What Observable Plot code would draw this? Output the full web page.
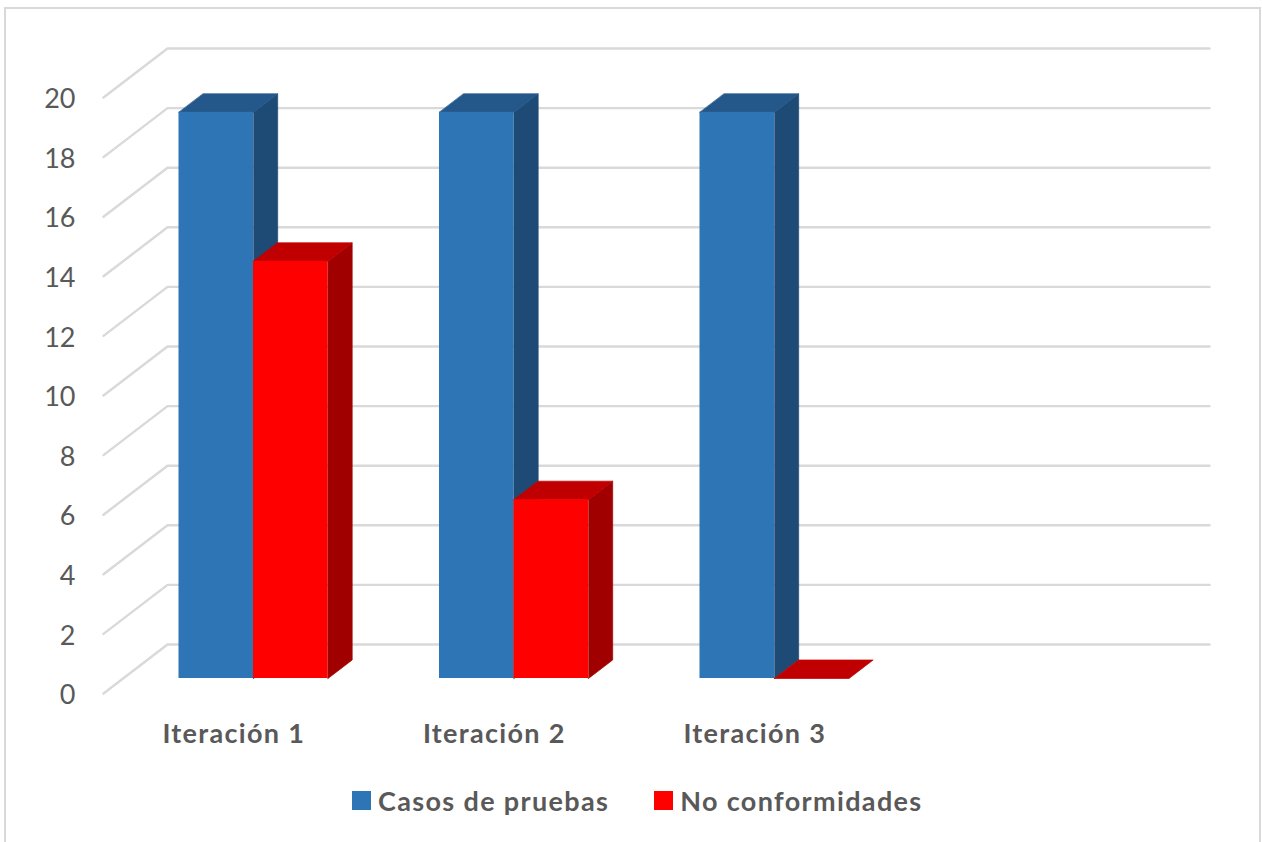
<!DOCTYPE html>
<html lang="es">
<head>
<meta charset="utf-8">
<script src="https://cdn.jsdelivr.net/npm/d3@7"></script>
<script src="https://cdn.jsdelivr.net/npm/@observablehq/plot@0.6"></script>
<style>
  html, body { margin: 0; padding: 0; background: #fff; }
  body { width: 1262px; height: 842px; position: relative; overflow: hidden; font-family: Lato, sans-serif; }
  #marco { position: absolute; left: 4px; top: 7px; right: 1px; bottom: -4px; border: 2px solid #d9d9d9; box-sizing: border-box; }
  #grafico { position: absolute; left: 0; top: 0; }
  #grafico svg { background: transparent; display: block; }
  #leyenda { position: absolute; left: 352px; top: 778px; height: 44px; display: flex; align-items: center; color: #595959; font-size: 27px; font-weight: 700; letter-spacing: 1.35px; }
  #leyenda span.item { display: flex; align-items: center; margin-right: 45px; }
  #leyenda i { display: inline-block; width: 19px; height: 19px; margin-right: 7px; }
</style>
</head>
<body>
<div id="marco"></div>
<div id="grafico"></div>
<div id="leyenda"></div>
<script>
// Valores del gráfico
const categorias = ["Iteración 1", "Iteración 2", "Iteración 3", ""];
const casosDePruebas = [19, 19, 19];
const noConformidades = [14, 6, 0];
const marcasEje = [0, 2, 4, 6, 8, 10, 12, 14, 16, 18, 20];
const series = ["Casos de pruebas", "No conformidades"];
const tonosAzul = { frente: "#2e75b6", techo: "#25588a", lado: "#1e4b76" };
const tonosRojo = { frente: "#ff0000", techo: "#c00000", lado: "#a00000" };

// Proyección oblicua: cada unidad de profundidad desplaza en x (categorías) y en y (valor)
const fondoX = 0.2457;
const fondoY = 1.644;
const anchoBarra = 0.286;
const inicioGrupo = 0.2146;
const profFrente = 0.306;
const profAtras = 0.684;
const pry = (x, v, d) => ({ x: x + d * fondoX, y: v + d * fondoY });

function caras(valores, desplazamiento, tonos, clave) {
  const puntos = [];
  const frentes = [];
  valores.forEach((v, i) => {
    const a = i + inicioGrupo + desplazamiento * anchoBarra;
    const b = a + anchoBarra;
    const cara = (nombre, fill, esquinas) => esquinas.forEach(([x, val, d]) =>
      puntos.push({ ...pry(x, val, d), id: `${clave}-${i}-${nombre}`, fill }));
    if (v > 0) cara("lado", tonos.lado, [[b, 0, profFrente], [b, 0, profAtras], [b, v, profAtras], [b, v, profFrente]]);
    cara("techo", tonos.techo, [[a, v, profFrente], [b, v, profFrente], [b, v, profAtras], [a, v, profAtras]]);
    const f0 = pry(a, 0, profFrente), f1 = pry(b, v, profFrente);
    frentes.push({ x1: f0.x, x2: f1.x, y1: f0.y, y2: f1.y });
  });
  return { puntos, frentes };
}

const azul = caras(casosDePruebas, 0, tonosAzul, "casos");
const rojo = caras(noConformidades, 1, tonosRojo, "nc");

// Rejilla: línea de la pared lateral y línea de la pared del fondo para cada marca
const rejilla = marcasEje.flatMap(v => [
  { ...pry(0, v, 0), v }, { ...pry(0, v, 1), v }, { ...pry(categorias.length, v, 1), v }
]);

// El trazo del mismo color evita las juntas claras entre caras contiguas
const mallaCaras = (p) => Plot.line(p, { x: "x", y: "y", z: "id", fill: "fill", stroke: "fill", strokeWidth: 0.7, curve: "linear-closed" });
const frentesMark = (f, color) => Plot.rect(f, { x1: "x1", x2: "x2", y1: "y1", y2: "y2", fill: color });

const grafico = Plot.plot({
  width: 1262,
  height: 770,
  marginLeft: 103,
  marginRight: 53,
  marginTop: 48,
  marginBottom: 77,
  style: { background: "transparent", fontFamily: "Lato, sans-serif" },
  x: { type: "linear", domain: [0, categorias.length + fondoX], axis: null },
  y: { domain: [0, 20 + fondoY], axis: null },
  color: { type: "identity" },
  marks: [
    Plot.line(rejilla, { x: "x", y: "y", z: "v", stroke: "#d9d9d9", strokeWidth: 2.4 }),
    mallaCaras(azul.puntos),
    frentesMark(azul.frentes, tonosAzul.frente),
    mallaCaras(rojo.puntos),
    frentesMark(rojo.frentes, tonosRojo.frente),
    Plot.text(marcasEje, { x: () => 0, y: d => d, text: d => String(d), textAnchor: "end", dx: -28, dy: 2, fontSize: 27, fill: "#595959" }),
    Plot.text(categorias, { x: (d, i) => i + 0.5, y: () => 0, text: d => d, dy: 41, fontSize: 27, fontWeight: 700, fill: "#595959" })
  ]
});
document.getElementById("grafico").append(grafico);

// Espaciado de las etiquetas de categoría
d3.select(grafico).selectAll('g[aria-label="text"]').filter((d, i) => i === 1).style("letter-spacing", "1.3px");

// Leyenda
const leyenda = document.getElementById("leyenda");
series.forEach((nombre, i) => {
  const item = document.createElement("span");
  item.className = "item";
  const muestra = document.createElement("i");
  muestra.style.background = [tonosAzul, tonosRojo][i].frente;
  item.append(muestra, nombre);
  leyenda.append(item);
});
</script>
</body>
</html>
